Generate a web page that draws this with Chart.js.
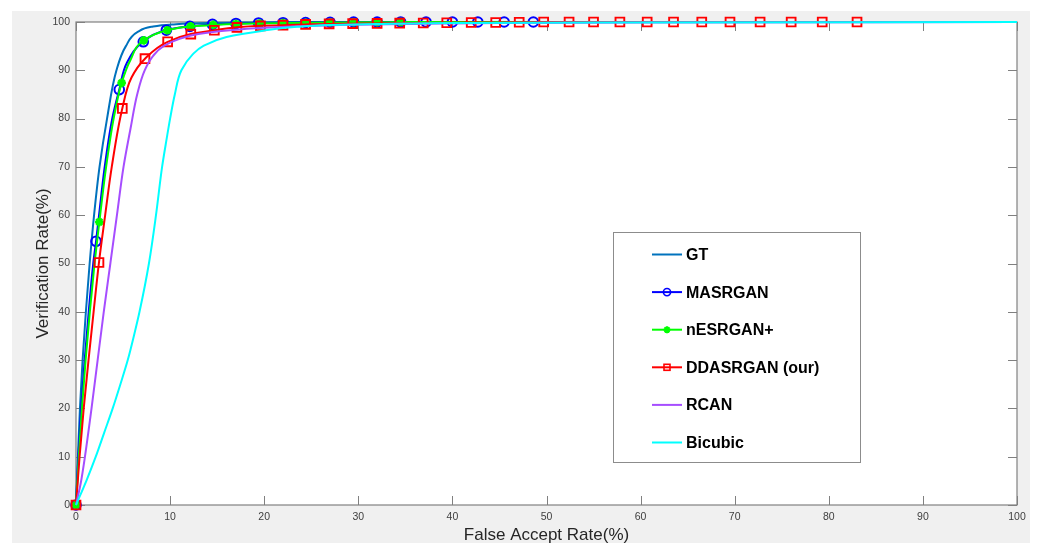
<!DOCTYPE html>
<html>
<head>
<meta charset="utf-8">
<script src="https://cdn.jsdelivr.net/npm/chart.js@4.4.0/dist/chart.umd.min.js"></script>
<style>
html,body{margin:0;padding:0;background:#ffffff;}
#wrap{width:1041px;height:543px;position:relative;}
canvas{display:block;}
</style>
</head>
<body>
<div id="wrap"><canvas id="c" width="1041" height="543"></canvas></div>
<script>
// ---------------- data ----------------
const X_TICKS = [0,10,20,30,40,50,60,70,80,90,100];
const Y_TICKS = [0,10,20,30,40,50,60,70,80,90,100];
const SERIES_NAMES = ['GT','MASRGAN','nESRGAN+','DDASRGAN (our)','RCAN','Bicubic'];
const X_TITLE = 'False Accept Rate(%)';
const Y_TITLE = 'Verification Rate(%)';

// GT curve
const GT_FAR = [0,0.2,0.42,0.7,1.05,1.45,1.92,2.5,3.3,4.3,5.3,6.6,8.0,10.2,14,22,100];
const GT_VR  = [0,10,20,30,40,50,60,70,80,90,95,98,99,99.5,99.8,100,100];

// MASRGAN curve + circle markers
const MAS_FAR = [0,0.25,0.55,0.92,1.35,1.83,2.13,2.45,3.05,3.85,4.6,5.4,7.15,9.6,12.1,14.5,17,19.4,24.4,29.5,100];
const MAS_VR  = [0,10,20,30,40,50,54.6,60,70,80,86.0,91.5,95.9,98.3,99.1,99.5,99.7,99.8,99.9,100,100];
const MAS_MK_FAR = [0,2.13,4.6,7.15,9.6,12.1,14.5,17,19.4,22,24.4,27,29.5,32,34.5,37.2,40,42.7,45.5,48.6];
const MAS_MK_VR  = [0,54.6,86.0,95.9,98.3,99.1,99.5,99.7,99.8,99.85,99.9,99.95,100,100,100,100,100,100,100,100];

// nESRGAN+ curve + star markers
const NES_FAR = [0,0.3,0.63,1.02,1.47,1.97,2.48,3.2,4.0,4.85,5.8,7.2,9.7,12.2,14.6,17,19.5,22,27,34.5,100];
const NES_VR  = [0,10,20,30,40,50,58.6,70,80,87.4,92.2,96.2,98.3,99.1,99.4,99.6,99.7,99.8,99.9,100,100];
const NES_MK_FAR = [0,2.48,4.85,7.2,9.7,12.2,14.6,17,19.5,22,24.4,27,29.5,32,34.5];
const NES_MK_VR  = [0,58.6,87.4,96.2,98.3,99.1,99.4,99.6,99.7,99.8,99.85,99.9,99.95,99.95,100];

// DDASRGAN (our) curve + square markers
const DDA_FAR = [0,0.38,0.82,1.33,1.87,2.44,3.1,3.8,4.92,5.9,7.33,9.74,12.2,14.7,17.1,19.6,22,24.4,26.9,29.4,32,34.4,36.9,39.4,42,44.6,47.1,49.7,100];
const DDA_VR  = [0,10,20,30,40,50.2,60,70,82.1,88.5,92.4,95.9,97.5,98.3,98.9,99.2,99.35,99.5,99.6,99.65,99.7,99.75,99.8,99.85,99.9,99.9,99.95,100,100];
const DDA_MK_FAR = [0,2.44,4.92,7.33,9.74,12.2,14.7,17.1,19.6,22,24.4,26.9,29.4,32,34.4,36.9,39.4,42,44.6,47.1,49.7,52.4,55,57.8,60.7,63.5,66.5,69.5,72.7,76,79.3,83];
const DDA_MK_VR  = [0,50.2,82.1,92.4,95.9,97.5,98.3,98.9,99.2,99.35,99.5,99.6,99.65,99.7,99.75,99.8,99.85,99.9,99.9,99.95,100,100,100,100,100,100,100,100,100,100,100,100];

// RCAN curve
const RCAN_FAR = [0,0.5,0.95,1.65,2.3,2.95,3.65,4.35,5.05,5.8,6.5,7.3,8.2,9.3,11,13,16.4,20,23.5,28,35,45,60,100];
const RCAN_VR  = [0,4.5,10,20,30,40,50,60,70,78,85,90,93,95,96.5,97.5,98.3,98.8,99.1,99.4,99.6,99.8,99.9,100];

// Bicubic curve
const BIC_FAR = [0,1.1,2.1,3.0,3.9,4.72,5.5,6.15,6.75,7.75,8.5,9.15,9.65,10.0,10.5,11.2,12.4,13.5,16,19.9,23.5,27,32,40,55,100];
const BIC_VR  = [0,5,10,15,20,25,30,35,40,50,60,70,76,80,85,90,93.3,95,96.9,98.2,99,99.4,99.6,99.8,99.9,100];

// ---------------- styles ----------------
const FONT = '"Liberation Sans", Arial, Helvetica, sans-serif';
const STYLE = {
  'GT':            {color:'#0072BD', marker:null},
  'MASRGAN':       {color:'#0000FF', marker:'circle'},
  'nESRGAN+':      {color:'#00FF00', marker:'star'},
  'DDASRGAN (our)':{color:'#FF0000', marker:'rect'},
  'RCAN':          {color:'#A64DFF', marker:null},
  'Bicubic':       {color:'#00FFFF', marker:null}
};

const pts = (xs, ys) => xs.map((x, i) => ({x: x, y: ys[i]}));

function lineDs(name, xs, ys, order) {
  return {
    label: name,
    data: pts(xs, ys),
    indexAxis: 'y',
    borderColor: STYLE[name].color,
    backgroundColor: STYLE[name].color,
    borderWidth: 2,
    pointRadius: 0,
    pointHoverRadius: 0,
    cubicInterpolationMode: 'monotone',
    fill: false,
    clip: false,
    order: order
  };
}
function markerDs(name, xs, ys, order, radius, bw) {
  return {
    label: name + ' markers',
    data: pts(xs, ys),
    showLine: false,
    pointStyle: STYLE[name].marker,
    pointRadius: radius,
    pointHoverRadius: radius,
    pointBorderWidth: bw,
    pointBorderColor: STYLE[name].color,
    pointBackgroundColor: STYLE[name].marker === 'star' ? STYLE[name].color : 'rgba(0,0,0,0)',
    borderColor: STYLE[name].color,
    clip: false,
    order: order
  };
}

const datasets = [
  lineDs('GT', GT_FAR, GT_VR, 20),
  lineDs('MASRGAN', MAS_FAR, MAS_VR, 19),
  markerDs('MASRGAN', MAS_MK_FAR, MAS_MK_VR, 18, 4.8, 2),
  lineDs('nESRGAN+', NES_FAR, NES_VR, 17),
  markerDs('nESRGAN+', NES_MK_FAR, NES_MK_VR, 16, 4.3, 2.6),
  lineDs('DDASRGAN (our)', DDA_FAR, DDA_VR, 15),
  markerDs('DDASRGAN (our)', DDA_MK_FAR, DDA_MK_VR, 14, 6.2, 1.9),
  lineDs('RCAN', RCAN_FAR, RCAN_VR, 13),
  lineDs('Bicubic', BIC_FAR, BIC_VR, 12)
];

// ---------------- plugins ----------------
const AXIS_COLOR = '#808080';
const bgPlugin = {
  id: 'bg',
  beforeDraw(chart) {
    const ctx = chart.ctx, ca = chart.chartArea;
    ctx.save();
    ctx.fillStyle = '#ffffff';
    ctx.fillRect(0, 0, chart.width, chart.height);
    ctx.fillStyle = '#f0f0f0';
    ctx.fillRect(12, 11, 1018, chart.height - 11);
    ctx.fillStyle = '#ffffff';
    ctx.fillRect(ca.left, ca.top, ca.right - ca.left, ca.bottom - ca.top);
    ctx.restore();
  }
};
const boxPlugin = {
  id: 'box',
  beforeDatasetsDraw(chart) {
    const ctx = chart.ctx, ca = chart.chartArea;
    const xs = chart.scales.x, ys = chart.scales.y;
    ctx.save();
    ctx.strokeStyle = AXIS_COLOR;
    ctx.lineWidth = 1.2;
    ctx.strokeRect(ca.left, ca.top, ca.right - ca.left, ca.bottom - ca.top);
    const TL = 9;
    ctx.beginPath();
    X_TICKS.forEach(v => {
      const p = Math.round(xs.getPixelForValue(v)) + 0.5;
      ctx.moveTo(p, ca.bottom); ctx.lineTo(p, ca.bottom - TL);
      ctx.moveTo(p, ca.top); ctx.lineTo(p, ca.top + TL);
    });
    Y_TICKS.forEach(v => {
      const p = Math.round(ys.getPixelForValue(v)) + 0.5;
      ctx.moveTo(ca.left, p); ctx.lineTo(ca.left + TL, p);
      ctx.moveTo(ca.right, p); ctx.lineTo(ca.right - TL, p);
    });
    ctx.lineWidth = 1;
    ctx.stroke();
    ctx.restore();
  }
};
function drawMarker(ctx, type, x, y, color) {
  ctx.save();
  ctx.strokeStyle = color;
  ctx.fillStyle = color;
  if (type === 'circle') {
    ctx.lineWidth = 1.6;
    ctx.beginPath(); ctx.arc(x, y, 3.6, 0, Math.PI * 2); ctx.stroke();
  } else if (type === 'rect') {
    ctx.lineWidth = 1.6;
    ctx.strokeRect(x - 3, y - 3, 6, 6);
  } else if (type === 'star') {
    ctx.lineWidth = 2;
    const r = 3.5;
    ctx.beginPath();
    for (let k = 0; k < 4; k++) {
      const a = k * Math.PI / 4;
      ctx.moveTo(x - r * Math.cos(a), y - r * Math.sin(a));
      ctx.lineTo(x + r * Math.cos(a), y + r * Math.sin(a));
    }
    ctx.stroke();
  }
  ctx.restore();
}
const legendPlugin = {
  id: 'boxLegend',
  afterDraw(chart) {
    const ctx = chart.ctx;
    const L = 613, T = 232, W = 247, H = 230;
    ctx.save();
    ctx.fillStyle = '#ffffff';
    ctx.fillRect(L, T, W, H);
    ctx.strokeStyle = '#8c8c8c';
    ctx.lineWidth = 1;
    ctx.strokeRect(L + 0.5, T + 0.5, W, H);
    ctx.font = 'bold 16px ' + FONT;
    ctx.textBaseline = 'middle';
    ctx.textAlign = 'left';
    SERIES_NAMES.forEach((name, i) => {
      const y = 254.5 + i * 37.6;
      const st = STYLE[name];
      ctx.strokeStyle = st.color;
      ctx.lineWidth = 2;
      ctx.beginPath(); ctx.moveTo(652, y); ctx.lineTo(682, y); ctx.stroke();
      if (st.marker) drawMarker(ctx, st.marker, 667, y, st.color);
      ctx.fillStyle = '#000000';
      ctx.fillText(name, 686, y + 1);
    });
    ctx.restore();
  }
};

// ---------------- chart ----------------
new Chart(document.getElementById('c'), {
  type: 'line',
  data: { datasets: datasets },
  options: {
    responsive: false,
    animation: false,
    devicePixelRatio: 1,
    events: [],
    layout: { padding: { left: 0, top: 22, right: 24, bottom: 0 } },
    plugins: { legend: { display: false }, tooltip: { enabled: false } },
    scales: {
      x: {
        type: 'linear', position: 'bottom', min: 0, max: 100,
        afterFit(s) { s.height = 38; },
        afterBuildTicks(s) { s.ticks = X_TICKS.map(v => ({value: v})); },
        grid: { display: false, drawTicks: false },
        border: { display: false },
        ticks: { color: '#404040', font: { family: FONT, size: 10.5 }, padding: 6, maxRotation: 0, autoSkip: false },
        title: { display: true, text: X_TITLE, color: '#262626', font: { family: FONT, size: 17, lineHeight: 0.9 }, padding: { top: 0, bottom: 0 } }
      },
      y: {
        type: 'linear', position: 'left', min: 0, max: 100,
        afterFit(s) { s.width = 76; },
        afterBuildTicks(s) { s.ticks = Y_TICKS.map(v => ({value: v})); },
        grid: { display: false, drawTicks: false },
        border: { display: false },
        ticks: { color: '#404040', font: { family: FONT, size: 10.5 }, padding: 6, autoSkip: false },
        title: { display: true, text: Y_TITLE, color: '#262626', font: { family: FONT, size: 17, lineHeight: 1 }, padding: { top: 34.5, bottom: 0 } }
      }
    }
  },
  plugins: [bgPlugin, boxPlugin, legendPlugin]
});
</script>
</body>
</html>
